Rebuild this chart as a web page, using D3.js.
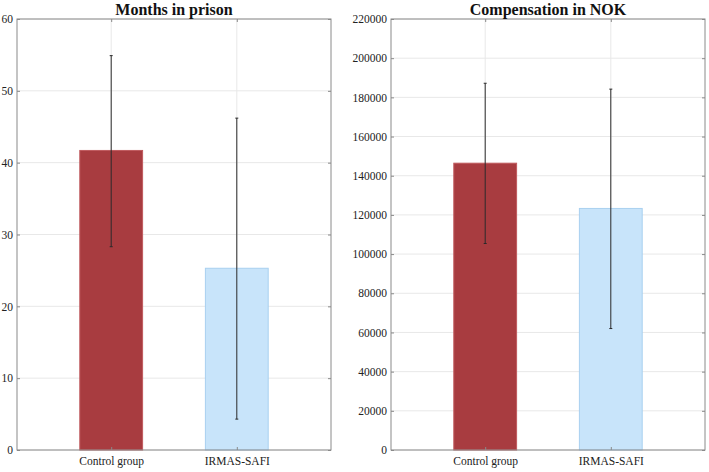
<!DOCTYPE html>
<html><head><meta charset="utf-8">
<script src="https://cdn.jsdelivr.net/npm/d3@7"></script>
<style>body{margin:0;background:#fff;} svg{display:block;}</style>
</head><body>
<svg id="c" width="709" height="472"></svg>
<script>
const categories = ["Control group", "IRMAS-SAFI"];
const monthsMean = [41.7, 25.3];
const monthsLow = [28.3, 4.3];
const monthsHigh = [54.9, 46.2];
const compMean = [146400, 123300];
const compLow = [105400, 62000];
const compHigh = [187200, 184200];
const monthsTicks = [0, 10, 20, 30, 40, 50, 60];
const compTicks = [0, 20000, 40000, 60000, 80000, 100000, 120000, 140000, 160000, 180000, 200000, 220000];
const barColors = ["#a83c40", "#c8e4fa"];
const barEdges = ["#c05a5e", "#a9d0f0"];

const svg = d3.select("#c");
const font = "Liberation Serif, Times New Roman, serif";

function panel(x0, title, mean, low, high, ticks, ymax) {
  const left = x0, right = x0 + 314, top = 19, bottom = 450;
  const g = svg.append("g");
  const x = d3.scaleLinear().domain([0.25, 2.75]).range([left, right]);
  const y = d3.scaleLinear().domain([0, ymax]).range([bottom, top]);
  g.selectAll(".hg").data(ticks).join("line")
    .attr("x1", left).attr("x2", right)
    .attr("y1", d => y(d)).attr("y2", d => y(d))
    .attr("stroke", "#e8e8e8").attr("stroke-width", 1);
  g.selectAll(".vg").data([1, 2]).join("line")
    .attr("x1", d => x(d)).attr("x2", d => x(d))
    .attr("y1", top).attr("y2", bottom)
    .attr("stroke", "#e8e8e8").attr("stroke-width", 1);
  g.selectAll(".bar").data(mean).join("rect")
    .attr("x", (d, i) => x(i + 1 - 0.25))
    .attr("width", (d, i) => x(i + 1 + 0.25) - x(i + 1 - 0.25))
    .attr("y", d => y(d))
    .attr("height", d => bottom - y(d))
    .attr("fill", (d, i) => barColors[i])
    .attr("stroke", (d, i) => barEdges[i]).attr("stroke-width", 1);
  const eb = g.selectAll(".eb").data(mean.map((m, i) => ({i, lo: low[i], hi: high[i]}))).join("g");
  eb.append("line")
    .attr("x1", d => x(d.i + 1)).attr("x2", d => x(d.i + 1))
    .attr("y1", d => y(d.lo)).attr("y2", d => y(d.hi))
    .attr("stroke", "#2a2a2a").attr("stroke-width", 1);
  eb.append("line")
    .attr("x1", d => x(d.i + 1) - 1.5).attr("x2", d => x(d.i + 1) + 1.5)
    .attr("y1", d => y(d.lo)).attr("y2", d => y(d.lo))
    .attr("stroke", "#2a2a2a").attr("stroke-width", 1);
  eb.append("line")
    .attr("x1", d => x(d.i + 1) - 1.5).attr("x2", d => x(d.i + 1) + 1.5)
    .attr("y1", d => y(d.hi)).attr("y2", d => y(d.hi))
    .attr("stroke", "#2a2a2a").attr("stroke-width", 1);
  g.append("rect").attr("x", left).attr("y", top)
    .attr("width", right - left).attr("height", bottom - top)
    .attr("fill", "none").attr("stroke", "#8a8a8a").attr("stroke-width", 1);
  const yAxisL = d3.axisLeft(y).tickValues(ticks).tickSize(-3).tickPadding(4).tickFormat(d3.format("d"));
  const gy = g.append("g").attr("transform", `translate(${left},0)`).call(yAxisL);
  const yAxisR = d3.axisRight(y).tickValues(ticks).tickSize(-3).tickFormat("");
  const gyr = g.append("g").attr("transform", `translate(${right},0)`).call(yAxisR);
  const xAxis = d3.axisBottom(x).tickValues([1, 2]).tickSize(-3).tickPadding(7).tickFormat((d) => categories[d - 1]);
  const gx = g.append("g").attr("transform", `translate(0,${bottom})`).call(xAxis);
  const xAxisT = d3.axisTop(x).tickValues([1, 2]).tickSize(-3).tickFormat("");
  const gxt = g.append("g").attr("transform", `translate(0,${top})`).call(xAxisT);
  [gy, gyr, gx, gxt].forEach(a => {
    a.attr("font-family", font).attr("font-size", 11.5);
    a.select(".domain").remove();
    a.selectAll(".tick line").attr("stroke", "#8a8a8a");
    a.selectAll("text").style("font-family", font).attr("font-size", 11.5).attr("fill", "#222");
  });
  g.append("text").attr("x", (left + right) / 2).attr("y", 15)
    .attr("text-anchor", "middle").style("font-family", font)
    .attr("font-weight", "bold").attr("font-size", 16).attr("fill", "#111").text(title);
}

panel(17, "Months in prison", monthsMean, monthsLow, monthsHigh, monthsTicks, 60);
panel(391, "Compensation in NOK", compMean, compLow, compHigh, compTicks, 220000);
</script>
</body></html>
